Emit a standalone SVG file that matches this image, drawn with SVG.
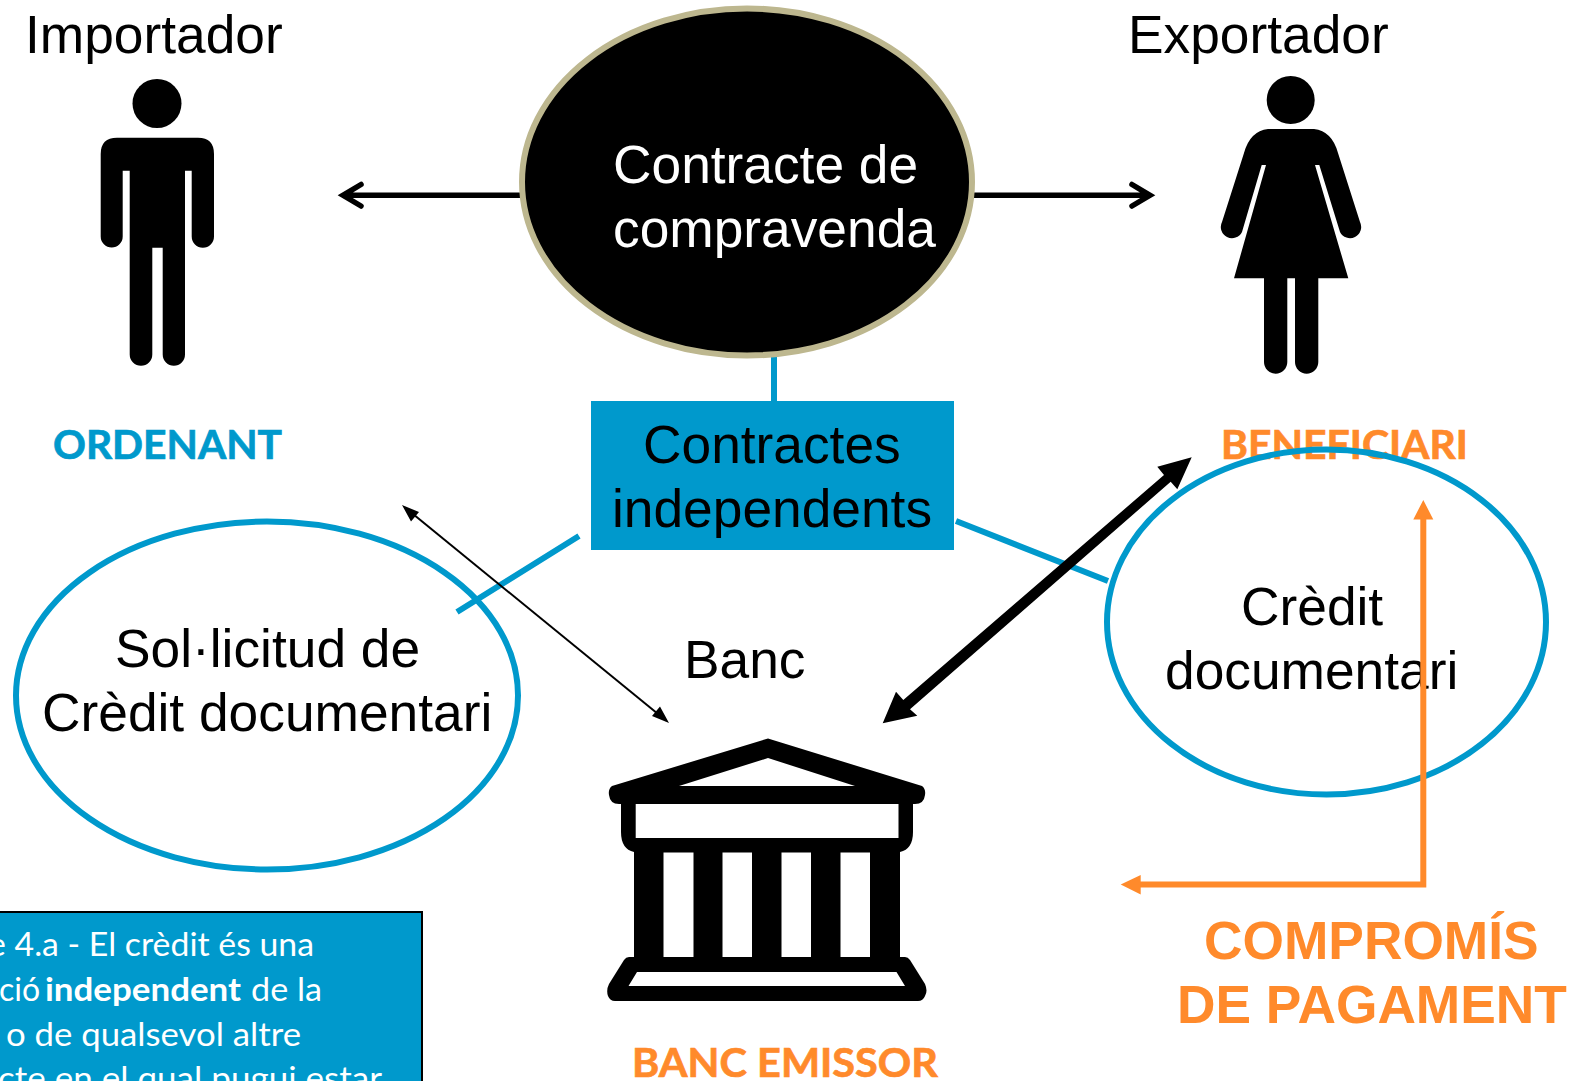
<svg xmlns="http://www.w3.org/2000/svg" width="1574" height="1081" viewBox="0 0 1574 1081">
<style>
.a{font-family:"Liberation Sans",Arial,sans-serif;font-size:53.3px;fill:#000}
.w{fill:#fff}
.o{font-family:"Liberation Sans",Arial,sans-serif;font-size:53.3px;font-weight:700;fill:#FF8A2B}
.l{font-family:Lato,"Open Sans",sans-serif;font-size:40px;font-weight:700;stroke-width:.7}
.n{font-family:Lato,"Open Sans",sans-serif;font-size:32px;fill:#fff}
.b{fill:none;stroke:#0099CC;stroke-width:6}
.h{fill:none;stroke:#000;stroke-width:5.5;stroke-linecap:round;stroke-linejoin:miter}
</style>

<g id="connectors">
<path d="M774 357V401M579 536L457 612M956 521L1108 581" class="b"/>
<path d="M525 195.300H345M361 184.500L343 195.300L361 206" class="h"/>
<path d="M968 195.300H1149M1132 184.500L1150 195.300L1132 206" class="h"/>
</g>

<g id="contracte">
<ellipse cx="747" cy="182" rx="225" ry="173.500" fill="#000" stroke="#BDB78F" stroke-width="6"/>
<text class="a w" x="613" y="183">Contracte de</text>
<text class="a w" x="613" y="247">compravenda</text>
</g>

<g id="importador">
<text class="a" x="25" y="52.500">Importador</text>
<circle cx="157" cy="103.500" r="24.500"/>
<path d="M117 137.700H198Q214 137.700 214 154V236.500A11.150 11.150 0 0 1 191.700 236.500V170.700H185V354.500A11.150 11.150 0 0 1 162.700 354.500V247.700H152.300V354.500A11.300 11.300 0 0 1 129.700 354.500V170.700H122.700V236.500A11 11 0 0 1 100.700 236.500V154Q100.700 137.700 117 137.700Z"/>
<text class="l" x="53" y="459" fill="#0099CC" stroke="#0099CC" textLength="229" lengthAdjust="spacingAndGlyphs">ORDENANT</text>
</g>

<g id="exportador">
<text class="a" x="1128" y="52.500">Exportador</text>
<circle cx="1290.700" cy="100" r="24"/>
<path d="M1268 129H1314Q1332 131 1338 153L1360 222A11 11 0 0 1 1340 232L1319.300 165H1315L1348.300 278.300H1318.300V362A11.650 11.650 0 0 1 1295 362V278.300H1287.300V362A11.650 11.650 0 0 1 1264 362V278.300H1234L1266 165H1261.700L1242 232A11 11 0 0 1 1222 222L1244 153Q1250 131 1268 129Z"/>
<text class="l" x="1221" y="459" fill="#FF8A2B" stroke="#FF8A2B" textLength="247" lengthAdjust="spacingAndGlyphs">BENEFICIARI</text>
</g>

<g id="contractes">
<rect x="591" y="401" width="363" height="149" fill="#0099CC"/>
<text class="a" x="643" y="463">Contractes</text>
<text class="a" x="612" y="527">independents</text>
</g>

<g id="solicitud">
<ellipse cx="267" cy="695.500" rx="251" ry="174" class="b"/>
<text class="a" x="115" y="667">Sol·licitud de</text>
<text class="a" x="42" y="731">Crèdit documentari</text>
</g>

<g id="credit">
<ellipse cx="1326.500" cy="622" rx="219.500" ry="172.500" class="b"/>
<text class="a" x="1241" y="625">Crèdit</text>
<text class="a" x="1165" y="689">documentari</text>
</g>

<g id="banc">
<text class="a" x="684" y="678">Banc</text>
<path fill-rule="evenodd" d="M768 738.500L922 786Q926 789 925 795Q924 804 915 804H913V832Q913 849 900 852H900V957H905Q908 957 910 960L925 984Q928 991 925 996Q923 1001 918 1001H615Q610 1001 608 996Q606 990 609 984L624 960Q626 957 629 957H634V852Q621 849 621 832V804H619Q610 804 609 795Q608 789 612 786ZM768 758L679 786H855ZM635.700 804V838H898.500V804ZM663.500 852.500V957H693.500V852.500ZM722.500 852.500V957H752V852.500ZM781.500 852.500V957H811V852.500ZM840.500 852.500V957H870V852.500ZM637 972L628.500 986H905L896.500 972Z"/>
<text class="l" x="632" y="1077" fill="#FF8A2B" stroke="#FF8A2B" textLength="306" lengthAdjust="spacingAndGlyphs">BANC EMISSOR</text>
</g>

<g id="arrows">
<path d="M405 507.500L666 720.500" fill="none" stroke="#000" stroke-width="2"/>
<path d="M402 505L419 512L411 521.500ZM669 723L652 716L660 706.500Z" fill="#000"/>
<path d="M1191.700 457.300L1157.300 466.700L1164 475L903.300 700L896 691.700L882.700 723.300L917.300 715.700L910 709.300L1170.700 481.700L1177.300 489.300Z" fill="#000"/>
<path d="M1423.300 515V884.500H1135" fill="none" stroke="#FF8A2B" stroke-width="6"/>
<path d="M1423.300 500L1433.300 519.500H1413.300ZM1120.700 884.500L1140.700 875V894.500Z" fill="#FF8A2B"/>
</g>

<g id="compromis">
<text class="o" x="1204" y="958.500">COMPROMÍS</text>
<text class="o" x="1177" y="1022.500">DE PAGAMENT</text>
</g>

<g id="nota">
<rect x="-5" y="912" width="427" height="180" fill="#0099CC" stroke="#000" stroke-width="2"/>
<text class="n" x="-12" y="956" textLength="326" lengthAdjust="spacingAndGlyphs">e 4.a - El crèdit és una</text>
<text class="n" y="1001"><tspan x="-1">ció</tspan> <tspan x="45" font-weight="700" textLength="196" lengthAdjust="spacingAndGlyphs">independent</tspan> <tspan x="251" textLength="71" lengthAdjust="spacingAndGlyphs">de la</tspan></text>
<text class="n" x="6" y="1046" textLength="295" lengthAdjust="spacingAndGlyphs">o de qualsevol altre</text>
<text class="n" x="-2" y="1090" textLength="384" lengthAdjust="spacingAndGlyphs">cte en el qual pugui estar</text>
</g>
</svg>
